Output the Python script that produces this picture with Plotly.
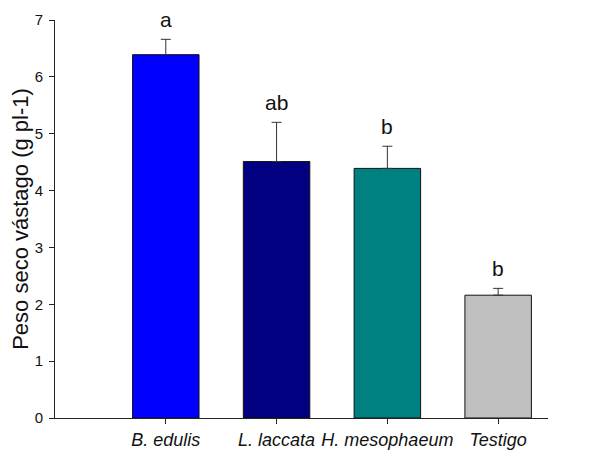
import plotly.graph_objects as go

categories = ["B. edulis", "L. laccata", "H. mesophaeum", "Testigo"]
values = [6.39, 4.51, 4.39, 2.16]
errors = [0.27, 0.69, 0.39, 0.12]
letters = ["a", "ab", "b", "b"]
colors = ["#0000FF", "#000080", "#008080", "#C0C0C0"]
tick_vals = [0, 1, 2, 3, 4, 5, 6, 7]

x_idx = list(range(len(categories)))

fig = go.Figure()
fig.add_trace(go.Bar(
    x=x_idx, y=values, width=0.6,
    marker=dict(color=colors, line=dict(color="#111111", width=1)),
    error_y=dict(type="data", array=errors, symmetric=False, arrayminus=[0]*4,
                 color="#333333", thickness=1, width=5),
    showlegend=False,
))

for i, (v, e, t) in enumerate(zip(values, errors, letters)):
    fig.add_annotation(x=i, y=v + e, text=t, showarrow=False,
                       yanchor="bottom", yshift=7, borderpad=0,
                       font=dict(family="Liberation Sans, Arial", size=21, color="#111111"))

# page body has an 8px margin, so the figure is 8px smaller and margins shifted
fig.update_layout(
    width=595, height=450,
    margin=dict(l=47, r=55, t=12, b=40, autoexpand=False),
    plot_bgcolor="white", paper_bgcolor="white",
    font=dict(family="Liberation Sans, Arial", color="#111111"),
    bargap=0.4,
)
fig.update_xaxes(
    range=[-1.0, 3.45], tickmode="array", tickvals=x_idx,
    ticktext=["<i>%s</i>" % c for c in categories],
    showline=True, linecolor="#222222", linewidth=1,
    ticks="outside", ticklen=5, tickcolor="#222222",
    tickfont=dict(size=18), showgrid=False, zeroline=False, automargin=False,
)
fig.update_yaxes(
    range=[0, 7], tickmode="array", tickvals=tick_vals,
    showline=True, linecolor="#222222", linewidth=1,
    ticks="outside", ticklen=5, tickcolor="#222222", ticklabelstandoff=3,
    tickfont=dict(size=15), showgrid=False, zeroline=False, automargin=False,
    title=dict(text="Peso seco vástago (g pl-1)", font=dict(size=22), standoff=2),
)

fig.write_html("out.html")
